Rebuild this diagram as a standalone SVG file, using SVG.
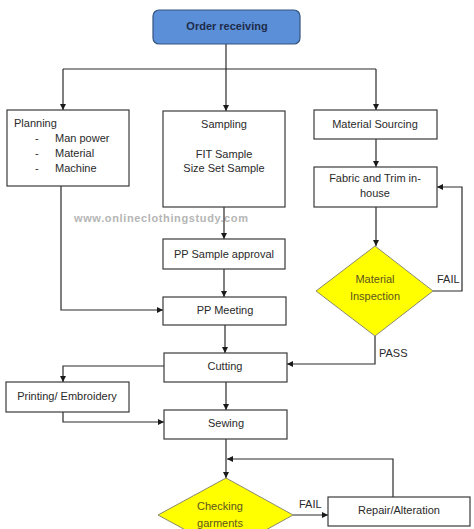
<svg xmlns="http://www.w3.org/2000/svg" width="474" height="529" viewBox="0 0 474 529">
<style>
.box{fill:#fff;stroke:#3a3a3a;stroke-width:1.2}
.dia{fill:#ffff00;stroke:#8a8a70;stroke-width:1}
.t{font-family:"Liberation Sans",Arial,sans-serif;font-size:11px;fill:#2a2a2a}
.c{text-anchor:middle}
.dt{font-family:"Liberation Sans",Arial,sans-serif;font-size:11px;fill:#5c5520;text-anchor:middle}
.ln{fill:none;stroke:#2a2a2a;stroke-width:1.2}
</style>
<defs>
<marker id="ah" viewBox="0 0 10 10" refX="10" refY="5" markerWidth="6" markerHeight="6" orient="auto" markerUnits="userSpaceOnUse">
<path d="M0,0 L10,5 L0,10 z" fill="#1a1a1a"/>
</marker>
</defs>
<rect width="474" height="529" fill="#fff"/>
<text x="74" y="222" textLength="174" font-family="Liberation Sans,Arial,sans-serif" font-size="11" font-weight="bold" fill="#b5b5b5">www.onlineclothingstudy.com</text>
<g id="connectors">
<path class="ln" d="M226,44 V69"/>
<path class="ln" d="M63,69 H376"/>
<path class="ln" d="M63,69 V110" marker-end="url(#ah)"/>
<path class="ln" d="M226,69 V111" marker-end="url(#ah)"/>
<path class="ln" d="M376,69 V110" marker-end="url(#ah)"/>
<path class="ln" d="M376,139 V167" marker-end="url(#ah)"/>
<path class="ln" d="M376,207 V246" marker-end="url(#ah)"/>
<path class="ln" d="M433,291 H462 V187 H437" marker-end="url(#ah)"/>
<path class="ln" d="M224,207 V239" marker-end="url(#ah)"/>
<path class="ln" d="M224,269 V297" marker-end="url(#ah)"/>
<path class="ln" d="M61,186 V310 H163" marker-end="url(#ah)"/>
<path class="ln" d="M225,325 V353" marker-end="url(#ah)"/>
<path class="ln" d="M375,336 V364 H287" marker-end="url(#ah)"/>
<path class="ln" d="M164,366 H63 V382" marker-end="url(#ah)"/>
<path class="ln" d="M63,412 V422 H164" marker-end="url(#ah)"/>
<path class="ln" d="M226,382 V410" marker-end="url(#ah)"/>
<path class="ln" d="M226,439 V478" marker-end="url(#ah)"/>
<path class="ln" d="M393,497 V459 H227" marker-end="url(#ah)"/>
<path class="ln" d="M293,515 H328" marker-end="url(#ah)"/>
</g>
<g id="order-receiving">
<rect x="153" y="10" width="147" height="34" rx="6" fill="#5b8fd8" stroke="#34547e" stroke-width="1.2"/>
<text x="227" y="27" class="c" font-family="Liberation Sans,Arial,sans-serif" font-size="11" font-weight="bold" fill="#1e2c4a" dominant-baseline="middle">Order receiving</text>
</g>
<g id="planning">
<rect class="box" x="7" y="110" width="122" height="76"/>
<text class="t" x="14" y="127">Planning</text>
<text class="t" x="35" y="142">-</text><text class="t" x="55" y="142">Man power</text>
<text class="t" x="35" y="157">-</text><text class="t" x="55" y="157">Material</text>
<text class="t" x="35" y="172">-</text><text class="t" x="55" y="172">Machine</text>
</g>
<g id="sampling">
<rect class="box" x="163" y="111" width="122" height="96"/>
<text class="t c" x="224" y="128">Sampling</text>
<text class="t c" x="224" y="158">FIT Sample</text>
<text class="t c" x="224" y="172">Size Set Sample</text>
</g>
<g id="material-sourcing">
<rect class="box" x="314" y="110" width="123" height="29"/>
<text class="t c" x="375" y="128">Material Sourcing</text>
</g>
<g id="fabric-trim">
<rect class="box" x="314" y="167" width="123" height="40"/>
<text class="t c" x="375" y="182">Fabric and Trim in-</text>
<text class="t c" x="375" y="197">house</text>
</g>
<g id="material-inspection">
<polygon class="dia" points="375,246 433,291 375,336 316,291"/>
<text class="dt" x="375" y="283">Material</text>
<text class="dt" x="375" y="300">Inspection</text>
</g>
<text class="t" x="437" y="283">FAIL</text>
<text class="t" x="379" y="357">PASS</text>
<g id="pp-sample-approval">
<rect class="box" x="163" y="239" width="122" height="30"/>
<text class="t c" x="224" y="258">PP Sample approval</text>
</g>
<g id="pp-meeting">
<rect class="box" x="163" y="297" width="123" height="28"/>
<text class="t c" x="225" y="314">PP Meeting</text>
</g>
<g id="cutting">
<rect class="box" x="164" y="353" width="123" height="29"/>
<text class="t c" x="225" y="370">Cutting</text>
</g>
<g id="printing">
<rect class="box" x="6" y="382" width="123" height="30"/>
<text class="t c" x="67" y="400">Printing/ Embroidery</text>
</g>
<g id="sewing">
<rect class="box" x="164" y="410" width="123" height="29"/>
<text class="t c" x="226" y="427">Sewing</text>
</g>
<g id="checking-garments">
<polygon class="dia" points="226,478 293,515 226,552 158,515"/>
<text class="dt" x="220" y="510">Checking</text>
<text class="dt" x="220" y="527">garments</text>
</g>
<text class="t" x="299" y="508">FAIL</text>
<g id="repair-alteration">
<rect class="box" x="328" y="497" width="142" height="29"/>
<text class="t c" x="399" y="514">Repair/Alteration</text>
</g>
</svg>
